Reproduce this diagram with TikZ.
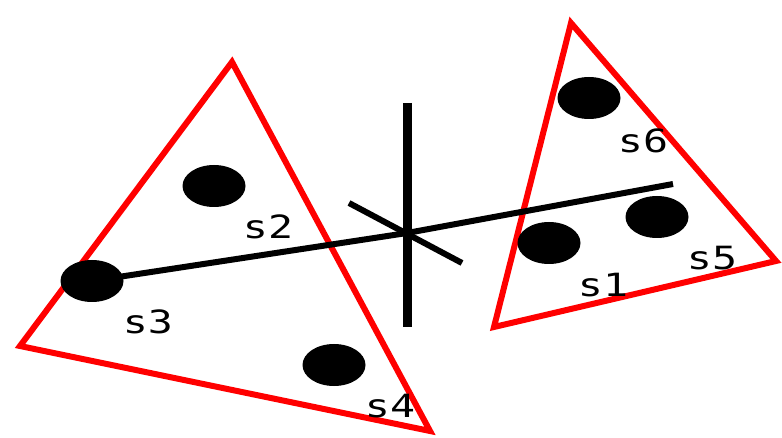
\documentclass[tikz,border=0pt]{standalone}
\usepackage{fontspec}
\newfontfamily\lblfont[FakeStretch=1.3]{DejaVu Sans Mono}
\usetikzlibrary{shapes.geometric}
\tikzset{
  sdot/.style  ={ellipse, fill=black, draw=none, minimum width=63pt, minimum height=42pt,
                 inner sep=0pt},
  slbl/.style  ={font=\lblfont\fontsize{32}{32}\selectfont, inner sep=0pt},
  tri/.style   ={draw=red, line width=6pt, line join=miter},
  axis/.style  ={draw=black, line width=9pt},
  ray/.style   ={draw=black, line width=6pt},
}

\begin{document}
\begin{tikzpicture}[x=1pt, y=-1pt]
  \useasboundingbox (0,0) rectangle (782,438);
  % left cluster
  \draw[tri] (232,62) -- (20,346) -- (430,431) -- cycle;
  % right cluster
  \draw[tri] (571,23) -- (494,327) -- (776,261) -- cycle;
  \node[sdot] (d2) at (214,186) {};
  \node[sdot] (d3) at (92,281) {};
  \node[sdot] (d4) at (334,365) {};
  \node[sdot] (d6) at (589,98) {};
  \node[sdot] (d5) at (657,217) {};
  \node[sdot] (d1) at (549,243) {};
  \node[slbl] (l2) at (268,227) {s2};
  \node[slbl] (l3) at (148,322) {s3};
  \node[slbl] (l4) at (390,406) {s4};
  \node[slbl] (l6) at (643,141) {s6};
  \node[slbl] (l5) at (712,258) {s5};
  \node[slbl] (l1) at (603,285) {s1};
  % axes
  \coordinate (o) at (407,233);
  \coordinate (top) at (407,103);
  \coordinate (bot) at (407,327);
  \coordinate (xa) at (349,203);
  \coordinate (xb) at (462,263);
  \coordinate (tip) at (673,184);
  \draw[axis] (top) -- (bot);
  \draw[ray] (xa) -- (xb);
  \draw[ray] (d3.center) -- (o) -- (tip);
\end{tikzpicture}
\end{document}
